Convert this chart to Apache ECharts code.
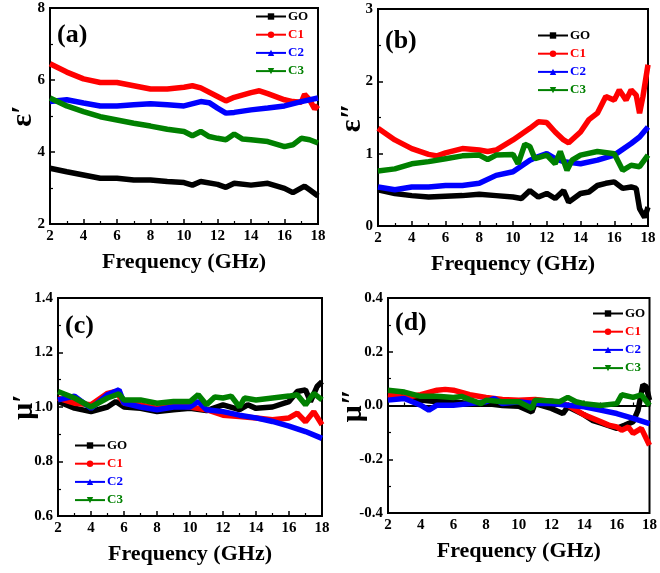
<!DOCTYPE html>
<html>
<head>
<meta charset="utf-8">
<script src="https://cdn.jsdelivr.net/npm/echarts@6/dist/echarts.min.js"></script>
<style>html,body{margin:0;padding:0;background:#fff}#c{width:660px;height:573px}</style>
</head>
<body>
<div id="c"></div>
<script>
// ---- data: [frequency (GHz), value] ----
const names = ['GO', 'C1', 'C2', 'C3'];
const colors = ['#000000', '#ff0000', '#0000ff', '#008000'];
const xTicks = [2, 4, 6, 8, 10, 12, 14, 16, 18];

const a_GO = [[2,3.55],[3,3.45],[4,3.36],[5,3.27],[6,3.27],[7,3.22],[8,3.22],[9,3.18],[10,3.15],[10.5,3.08],[11,3.18],[12,3.10],[12.5,3.02],[13,3.13],[14,3.08],[15,3.13],[16,2.99],[16.5,2.87],[17.2,3.05],[17.5,2.95],[18,2.78]];
const a_C1 = [[2,6.45],[3,6.22],[4,6.03],[5,5.93],[6,5.93],[7,5.84],[8,5.75],[9,5.75],[10,5.8],[10.5,5.84],[11,5.78],[12,5.54],[12.5,5.42],[13,5.52],[14,5.65],[14.5,5.7],[15,5.62],[16,5.45],[16.5,5.4],[17,5.38],[17.2,5.6],[17.5,5.45],[17.8,5.2],[18,5.3]];
const a_C2 = [[2,5.4],[3,5.45],[4,5.36],[5,5.28],[6,5.28],[7,5.31],[8,5.34],[9,5.31],[10,5.28],[11,5.4],[11.5,5.37],[12,5.22],[12.5,5.08],[13,5.1],[14,5.17],[15,5.22],[16,5.28],[17,5.4],[18,5.5]];
const a_C3 = [[2,5.5],[3,5.28],[4,5.12],[5,4.98],[6,4.89],[7,4.8],[8,4.72],[9,4.63],[10,4.57],[10.5,4.45],[11,4.57],[11.5,4.43],[12,4.38],[12.5,4.34],[13,4.5],[13.5,4.36],[14,4.34],[15,4.29],[16,4.15],[16.5,4.2],[17,4.38],[17.5,4.34],[18,4.25]];

const b_GO = [[2,0.5],[3,0.45],[4,0.42],[5,0.4],[6,0.41],[7,0.42],[8,0.44],[9,0.42],[10,0.4],[10.5,0.38],[11,0.49],[11.5,0.4],[12,0.45],[12.5,0.38],[13,0.49],[13.3,0.33],[14,0.45],[14.5,0.47],[15,0.56],[15.5,0.59],[16,0.61],[16.5,0.52],[17,0.54],[17.3,0.52],[17.5,0.24],[17.8,0.12],[18,0.26]];
const b_C1 = [[2,1.35],[3,1.19],[4,1.07],[5,0.99],[5.5,0.97],[6,1.01],[7,1.07],[8,1.05],[8.5,1.03],[9,1.05],[10,1.19],[11,1.35],[11.5,1.44],[12,1.43],[12.5,1.3],[13,1.19],[13.3,1.15],[14,1.3],[14.5,1.47],[15,1.56],[15.5,1.79],[16,1.74],[16.3,1.88],[16.7,1.74],[17,1.88],[17.3,1.81],[17.5,1.56],[17.7,1.79],[18,2.23]];
const b_C2 = [[2,0.54],[3,0.5],[4,0.54],[5,0.54],[6,0.56],[7,0.56],[8,0.59],[9,0.7],[10,0.75],[11,0.91],[11.5,0.96],[12,1.0],[12.5,0.93],[13,0.89],[14,0.86],[15,0.91],[16,0.98],[17,1.14],[17.5,1.23],[18,1.37]];
const b_C3 = [[2,0.76],[3,0.79],[4,0.86],[5,0.89],[6,0.93],[7,0.97],[8,0.98],[8.5,0.92],[9,0.98],[10,0.99],[10.3,0.86],[10.7,1.13],[11,1.1],[11.3,0.93],[12,0.98],[12.5,0.86],[12.8,1.03],[13.2,0.77],[13.5,0.91],[14,0.98],[15,1.03],[16,1.0],[16.5,0.77],[17,0.84],[17.5,0.82],[18,0.98]];

const c_GO = [[2,1.02],[3,0.996],[4,0.983],[5,1.0],[5.5,1.02],[6,1.0],[7,0.995],[8,0.983],[9,0.99],[10,0.995],[11,0.987],[12,1.008],[13,0.99],[13.5,1.008],[14,0.995],[15,1.0],[16,1.02],[16.5,1.057],[17,1.063],[17.3,1.02],[17.7,1.075],[18,1.093]];
const c_C1 = [[2,1.033],[3,1.014],[4,1.008],[5,1.05],[5.5,1.057],[6,1.014],[7,1.008],[8,0.995],[9,1.008],[10,1.0],[11,0.99],[12,0.97],[13,0.965],[14,0.96],[15,0.953],[16,0.96],[16.5,0.977],[17,0.946],[17.5,0.983],[18,0.935]];
const c_C2 = [[2,1.026],[3,1.04],[4,0.995],[5,1.045],[5.7,1.063],[6,1.014],[7,1.0],[8,0.99],[9,1.0],[10,1.0],[10.5,1.02],[11,0.99],[12,0.983],[13,0.97],[14,0.96],[15,0.947],[16,0.93],[17,0.91],[18,0.885]];
const c_C3 = [[2,1.057],[3,1.033],[4,1.0],[5,1.033],[5.7,1.048],[6,1.026],[7,1.026],[8,1.014],[9,1.02],[10,1.02],[10.5,1.045],[11,1.008],[11.5,1.037],[12,1.033],[12.5,1.04],[13,1.0],[13.3,1.033],[14,1.026],[15,1.033],[16,1.04],[16.5,1.045],[17,1.008],[17.5,1.05],[18,1.026]];

const d_GO = [[2,0.045],[3,0.03],[4,0.02],[5,0.014],[6,0.014],[7,0.007],[8,0.007],[9,0],[10,-0.003],[10.8,-0.024],[11,0.007],[12,-0.011],[12.7,-0.03],[13,-0.005],[14,-0.035],[14.5,-0.055],[15,-0.065],[16,-0.085],[16.5,-0.073],[17,-0.06],[17.3,-0.017],[17.6,0.077],[17.8,0.07],[18,0.02]];
const d_C1 = [[2,0.04],[3,0.03],[4,0.04],[5,0.057],[5.5,0.06],[6,0.057],[7,0.04],[8,0.03],[9,0.022],[10,0.02],[11,0.022],[12,0.016],[13,0.001],[14,-0.035],[15,-0.06],[15.5,-0.073],[16,-0.08],[16.3,-0.092],[16.7,-0.08],[17,-0.104],[17.5,-0.085],[18,-0.148]];
const d_C2 = [[2,0.02],[3,0.026],[4,0.001],[4.5,-0.017],[5,0.001],[6,0.001],[7,0.007],[8,0.014],[8.5,0.026],[9,0.007],[10,0.014],[11,0.007],[12,0.007],[13,0.001],[14,-0.005],[15,-0.017],[16,-0.03],[17,-0.048],[18,-0.067]];
const d_C3 = [[2,0.057],[3,0.05],[4,0.034],[5,0.034],[6,0.03],[6.5,0.034],[7,0.022],[7.7,0.007],[8,0.02],[9,0.014],[10,0.014],[10.8,-0.011],[11,0.02],[12,0.017],[12.5,0.014],[13,0.03],[13.5,0.014],[14,0.007],[15,0],[16,0.007],[16.3,0.04],[17,0.03],[17.5,0.04],[18,0]];

const panels = [
  {label:'(a)', yName:'ε\u2032', yMin:2, yMax:8, yInt:2, dec:0, data:[a_GO,a_C1,a_C2,a_C3]},
  {label:'(b)', yName:'ε\u2033', yMin:0, yMax:3, yInt:1, dec:0, data:[b_GO,b_C1,b_C2,b_C3]},
  {label:'(c)', yName:'μ\u2032', yMin:0.6, yMax:1.4, yInt:0.2, dec:1, data:[c_GO,c_C1,c_C2,c_C3]},
  {label:'(d)', yName:'μ\u2033', yMin:-0.4, yMax:0.4, yInt:0.2, dec:1, data:[d_GO,d_C1,d_C2,d_C3]}
];

// ---- layout ----
const grids = [
  {left:50, top:8, width:268, height:216},
  {left:378, top:9, width:270, height:217},
  {left:58, top:298, width:264, height:218},
  {left:388, top:298, width:263, height:215}
];
const legendPos = [
  {left:255, top:10},
  {left:537, top:29},
  {left:74, top:439},
  {left:592, top:307}
];
const labelPos = [
  {left:57, top:22},
  {left:385, top:28},
  {left:65, top:313},
  {left:395, top:310}
];
const yNameGap = [12, 11, 19, 20];
const symbols = ['rect', 'circle', 'triangle', 'path://M0,0 L10,0 L5,9 Z'];
const FONT = '"Liberation Serif", "Times New Roman", serif';

const option = {
  animation: false,
  backgroundColor: '#fff',
  grid: grids.map(g => Object.assign({show:true, borderColor:'#000', borderWidth:2, backgroundColor:'transparent'}, g)),
  title: panels.map((p, i) => ({
    text: p.label, left: labelPos[i].left, top: labelPos[i].top, padding: 0,
    textStyle: {fontFamily: FONT, fontWeight: 'bold', fontSize: 26, color: '#000'}
  })),
  legend: panels.map((p, i) => ({
    orient: 'vertical', left: legendPos[i].left, top: legendPos[i].top, padding: 0,
    itemWidth: 30, itemHeight: 8, itemGap: 5.2,
    lineStyle: {width: 2},
    data: names.map((n, k) => ({name: n, textStyle: {color: colors[k]}})),
    textStyle: {fontFamily: FONT, fontWeight: 'bold', fontSize: 13, padding: [0, 0, 0, -3]},
    selectedMode: false
  })),
  xAxis: panels.map((p, i) => ({
    type: 'value', gridIndex: i, min: 2, max: 18, interval: 2,
    name: 'Frequency (GHz)', nameLocation: 'middle', nameGap: 27,
    nameTextStyle: {fontFamily: FONT, fontWeight: 'bold', fontSize: 22, color: '#000'},
    axisLine: {lineStyle: {color: '#000', width: 2}},
    axisTick: {inside: true, length: 5, lineStyle: {width: 1.5}},
    minorTick: {show: true, splitNumber: 2, length: 3, lineStyle: {color: '#000', width: 1.2}},
    axisLabel: {fontFamily: FONT, fontWeight: 'bold', fontSize: 15, color: '#000', margin: 5},
    splitLine: {show: false}
  })),
  yAxis: panels.map((p, i) => ({
    type: 'value', gridIndex: i, min: p.yMin, max: p.yMax, interval: p.yInt,
    name: p.yName, nameLocation: 'middle', nameGap: yNameGap[i], nameRotate: 90,
    nameMoveOverlap: false,
    nameTextStyle: {fontFamily: FONT, fontWeight: 'bold', fontSize: 30, color: '#000'},
    axisLine: {lineStyle: {color: '#000', width: 2}},
    axisTick: {inside: true, length: 5, lineStyle: {width: 1.5}},
    minorTick: {show: true, splitNumber: 2, length: 3, lineStyle: {color: '#000', width: 1.2}},
    axisLabel: {fontFamily: FONT, fontWeight: 'bold', fontSize: 15, color: '#000', margin: 5,
      formatter: v => v.toFixed(p.dec)},
    splitLine: {show: false}
  })),
  series: []
};

panels.forEach((p, i) => {
  p.data.forEach((d, k) => {
    option.series.push({
      type: 'line', name: names[k], xAxisIndex: i, yAxisIndex: i,
      data: d, showSymbol: false, symbol: symbols[k], symbolSize: 8,
      lineStyle: {color: colors[k], width: 5.5}, itemStyle: {color: colors[k]},
      z: 2 + k
    });
  });
});

const chart = echarts.init(document.getElementById('c'), null, {renderer: 'canvas'});
chart.setOption(option);
</script>
</body>
</html>
